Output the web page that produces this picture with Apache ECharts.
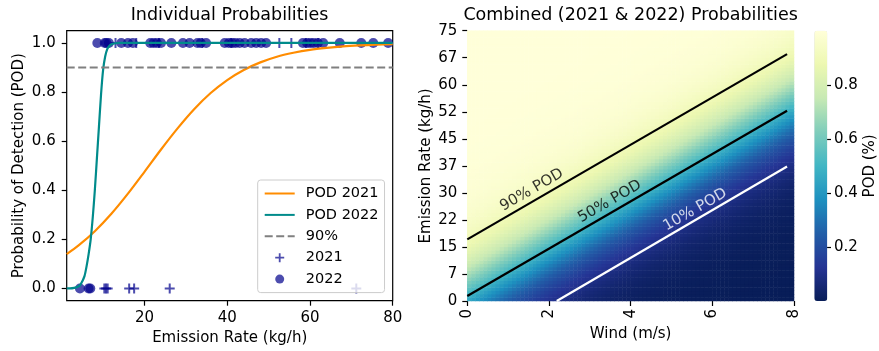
<!DOCTYPE html>
<html><head><meta charset="utf-8">
<script src="https://cdn.jsdelivr.net/npm/echarts/dist/echarts.min.js"></script>
<style>html,body{margin:0;padding:0;background:#fff}#c{width:879px;height:351px}</style>
</head><body><div id="c"></div>
<script>
const FONT = 'DejaVu Sans';
// ---------- Left panel: individual probabilities ----------
const pod2021X = [1.2, 4, 8, 12, 16, 20, 24, 28, 32, 36, 40, 44, 48, 52, 56, 60, 64, 68, 72, 76, 80];
const pod2021Y = [0.14, 0.174, 0.233, 0.304, 0.386, 0.475, 0.566, 0.652, 0.73, 0.796, 0.849, 0.89, 0.921, 0.944, 0.96, 0.972, 0.98, 0.986, 0.99, 0.993, 0.995];
const pod2022X = [1.2, 2, 3, 4, 4.5, 5, 5.5, 6, 6.5, 7, 7.5, 8, 8.5, 9, 9.5, 10, 10.5, 11, 11.5, 12, 13, 14, 20, 40, 60, 80];
const pod2022Y = [0, 0, 0.002, 0.008, 0.015, 0.03, 0.05, 0.09, 0.14, 0.2, 0.29, 0.4, 0.53, 0.66, 0.79, 0.89, 0.945, 0.975, 0.988, 0.995, 0.999, 1, 1, 1, 1, 1];
const thresholdLevel = [0.9];
const rate2021Detected = [13.0, 18.0, 23.5, 34.0, 41.0, 52.6, 55.5, 59.0, 62.0];
const rate2021Missed = [10.3, 10.7, 11.1, 16.3, 17.5, 26.1, 71.2];
const rate2022Detected = [8.6, 10.4, 10.8, 11.4, 14.4, 16.0, 17.2, 21.4, 22.2, 23.0, 24.0, 26.5, 29.3, 30.9, 32.8, 33.6, 34.9, 39.4, 40.4, 41.2, 42.0, 43.0, 44.2, 45.8, 47.0, 48.2, 49.4, 58.3, 59.3, 60.1, 60.9, 61.9, 63.2, 67.2, 72.4, 75.3, 78.9];
const rate2022Missed = [4.4, 6.5, 6.9];
const leftXTicks = [20, 40, 60, 80];
const leftYTicks = [0, 0.2, 0.4, 0.6, 0.8, 1.0];
const colorbarTicks = [0.2, 0.4, 0.6, 0.8];

// ---------- Right panel: combined probabilities ----------
const contourNames = ['90% POD', '50% POD', '10% POD'];
const contour90 = [[0, 17.1], [7.83, 68.5]];
const contour50 = [[0, 1.39], [7.83, 52.8]];
const contour10 = [[2.19, 0], [7.83, 37.3]];
const contourLabelAnchors = [[1.58, 30.8], [3.49, 27.6], [5.58, 25.3]];
const windCells = 80, windStep = 0.1;
const rateCells = 80, rateStep = 75 / 80;

const YlGnBu = ['#081d58', '#253494', '#225ea8', '#1d91c0', '#41b6c4', '#7fcdbb', '#c7e9b4', '#edf8b1', '#ffffd9'];

function lineAt(seg, w) {
  const [[x0, y0], [x1, y1]] = seg;
  return y0 + (y1 - y0) * (w - x0) / (x1 - x0);
}
// heatmap surface: logistic whose 10/50/90% levels follow the contour lines
const heatData = [];
const L9 = Math.log(9);
for (let i = 0; i < windCells; i++) {
  const w = i * windStep;
  const e50 = lineAt(contour50, w), e90 = lineAt(contour90, w), e10 = lineAt(contour10, w);
  for (let j = 0; j < rateCells; j++) {
    const e = j * rateStep;
    const d = e - e50;
    const s = d >= 0 ? (e90 - e50) : (e50 - e10);
    const p = 1 / (1 + Math.exp(-d * L9 / s));
    heatData.push([i, j, p]);
  }
}
const windCats = Array.from({length: windCells}, (_, i) => String(i));
const rateCats = Array.from({length: rateCells}, (_, j) => String(j));

const zip = (xs, ys) => xs.map((x, i) => [x, ys[i]]);
const FS = 15;
const txt = {color: '#000', fontFamily: FONT, fontSize: FS};
const PLUS = 'path://M4,0H6V4H10V6H6V10H4V6H0V4H4Z';
const hideSym = {opacity: 0};
const noLine = {show: false, onZero: false};

const chart = echarts.init(document.getElementById('c'), null, {renderer: 'canvas'});
chart.setOption({
  animation: false,
  textStyle: {fontFamily: FONT},
  title: [
    {text: 'Individual Probabilities', left: 229.5, top: 6, textAlign: 'center', padding: 0,
     textStyle: {fontFamily: FONT, fontSize: 17.5, fontWeight: 'normal', color: '#000'}},
    {text: 'Combined (2021 & 2022) Probabilities', left: 630.6, top: 6, textAlign: 'center', padding: 0,
     textStyle: {fontFamily: FONT, fontSize: 17.5, fontWeight: 'normal', color: '#000'}}
  ],
  grid: [
    {left: 66.7, top: 30.7, width: 326, height: 270, show: true, borderColor: '#000', borderWidth: 1.2, backgroundColor: 'transparent'},
    {left: 467.3, top: 30.7, width: 326.7, height: 270.3},
    {left: 814.3, top: 30.7, width: 13, height: 270.3}
  ],
  legend: {
    left: 257.7, top: 180, orient: 'vertical', padding: [5, 6, 5, 6],
    itemWidth: 30, itemHeight: 9, itemGap: 4.4,
    backgroundColor: 'rgba(255,255,255,0.8)', borderColor: '#cccccc', borderWidth: 1, borderRadius: 3,
    textStyle: {color: '#000', fontFamily: FONT, fontSize: 14.5, lineHeight: 17, padding: [0, 0, 0, 6]},
    data: [
      {name: 'POD 2021', itemStyle: hideSym},
      {name: 'POD 2022', itemStyle: hideSym},
      {name: '90%', itemStyle: hideSym},
      {name: '2021'},
      {name: '2022'}
    ]
  },
  xAxis: [
    {type: 'value', gridIndex: 0, min: 1.2, max: 80,
     axisLine: noLine, splitLine: {show: false},
     axisTick: {show: true, inside: false, length: 5, customValues: leftXTicks, lineStyle: {color: '#000', width: 1.2}},
     axisLabel: {customValues: leftXTicks, margin: 10, ...txt},
     name: 'Emission Rate (kg/h)', nameLocation: 'middle', nameGap: 28, nameTextStyle: txt},
    {type: 'value', gridIndex: 1, min: 0, max: 8, interval: 2,
     axisLine: noLine, splitLine: {show: false},
     axisTick: {show: true, length: 5, lineStyle: {color: '#000', width: 1.2}},
     axisLabel: {rotate: 90, margin: 8, ...txt},
     name: 'Wind (m/s)', nameLocation: 'middle', nameGap: 26, nameTextStyle: txt},
    {type: 'category', gridIndex: 1, data: windCats, show: false, boundaryGap: true, axisLine: noLine},
    {type: 'value', gridIndex: 2, show: false, min: 0, max: 1, axisLine: noLine}
  ],
  yAxis: [
    {type: 'value', gridIndex: 0, min: -0.05, max: 1.05,
     axisLine: noLine, splitLine: {show: false},
     axisTick: {show: true, inside: false, length: 5, customValues: leftYTicks, lineStyle: {color: '#000', width: 1.2}},
     axisLabel: {customValues: leftYTicks, margin: 11, formatter: v => v.toFixed(1), ...txt},
     name: 'Probability of Detection (POD)', nameLocation: 'middle', nameRotate: 90, nameGap: 40, nameTextStyle: txt},
    {type: 'value', gridIndex: 1, min: 0, max: 75, interval: 7.5,
     axisLine: noLine, splitLine: {show: false},
     axisTick: {show: true, length: 5, lineStyle: {color: '#000', width: 1.2}},
     axisLabel: {margin: 10, formatter: v => String(Math.floor(v + 1e-9)), ...txt},
     name: 'Emission Rate (kg/h)', nameLocation: 'middle', nameRotate: 90, nameGap: 34, nameTextStyle: txt},
    {type: 'category', gridIndex: 1, data: rateCats, show: false, boundaryGap: true, axisLine: noLine},
    {type: 'value', gridIndex: 2, min: 0, max: 1, position: 'right',
     axisLine: noLine, splitLine: {show: false},
     axisTick: {show: true, length: 5, customValues: colorbarTicks, lineStyle: {color: '#000', width: 1.2}},
     axisLabel: {customValues: colorbarTicks, margin: 8, formatter: v => v.toFixed(1), ...txt},
     name: 'POD (%)', nameLocation: 'middle', nameRotate: 90, nameGap: 37, nameTextStyle: txt}
  ],
  visualMap: {
    type: 'continuous', seriesIndex: 5, min: 0, max: 1, calculable: false,
    left: 814.3, top: 30.7, itemWidth: 13, itemHeight: 270.3, padding: 0,
    orient: 'vertical', showLabel: false, hoverLink: false,
    inRange: {color: YlGnBu}
  },
  series: [
    {name: 'POD 2021', type: 'line', xAxisIndex: 0, yAxisIndex: 0, data: zip(pod2021X, pod2021Y),
     smooth: 0.3, symbol: 'none', z: 4, silent: true, lineStyle: {color: '#ff8c00', width: 2.2}, itemStyle: {color: '#ff8c00'}},
    {name: 'POD 2022', type: 'line', xAxisIndex: 0, yAxisIndex: 0, data: zip(pod2022X, pod2022Y),
     smooth: 0.3, symbol: 'none', z: 4, silent: true, lineStyle: {color: '#008b8b', width: 2.2}, itemStyle: {color: '#008b8b'}},
    {name: '90%', type: 'line', xAxisIndex: 0, yAxisIndex: 0, data: [[1.2, thresholdLevel[0]], [80, thresholdLevel[0]]],
     symbol: 'none', z: 4, silent: true, lineStyle: {color: '#808080', width: 2.2, type: [8, 3.5]}, itemStyle: {color: '#808080'}},
    {name: '2021', type: 'scatter', xAxisIndex: 0, yAxisIndex: 0, symbol: PLUS, symbolSize: 10, z: 2, silent: true,
     data: rate2021Detected.map(x => [x, 1]).concat(rate2021Missed.map(x => [x, 0])),
     itemStyle: {color: '#00008b', opacity: 0.7}},
    {name: '2022', type: 'scatter', xAxisIndex: 0, yAxisIndex: 0, symbol: 'circle', symbolSize: 10, z: 2, silent: true,
     data: rate2022Detected.map(x => [x, 1]).concat(rate2022Missed.map(x => [x, 0])),
     itemStyle: {color: '#00008b', opacity: 0.7}},
    {name: 'heat', type: 'heatmap', xAxisIndex: 2, yAxisIndex: 2, data: heatData, progressive: 0, silent: true, z: 1},
    {name: 'c90', type: 'line', xAxisIndex: 1, yAxisIndex: 1, data: contour90, symbol: 'none', z: 5, silent: true,
     lineStyle: {color: '#000', width: 2.2}},
    {name: 'c50', type: 'line', xAxisIndex: 1, yAxisIndex: 1, data: contour50, symbol: 'none', z: 5, silent: true,
     lineStyle: {color: '#000', width: 2.2}},
    {name: 'c10', type: 'line', xAxisIndex: 1, yAxisIndex: 1, data: contour10, symbol: 'none', z: 5, silent: true,
     lineStyle: {color: '#fff', width: 2.2}},
    {name: 'labels', type: 'scatter', xAxisIndex: 1, yAxisIndex: 1, symbolSize: 0, z: 6, silent: true,
     data: contourLabelAnchors.map((p, k) => ({value: p, name: contourNames[k],
       label: {color: k === 2 ? '#fff' : '#000'}})),
     label: {show: true, position: 'inside', formatter: p => p.name, rotate: 30, fontFamily: FONT, fontSize: FS}},
    {name: 'cbar', type: 'scatter', xAxisIndex: 3, yAxisIndex: 3, data: [], silent: true}
  ]
});
</script></body></html>
